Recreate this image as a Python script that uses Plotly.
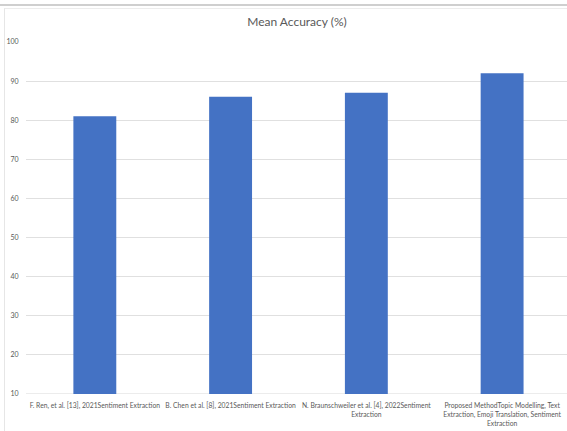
import plotly.graph_objects as go

categories = [
    "F. Ren, et al. [13], 2021Sentiment Extraction",
    "B. Chen et al. [8], 2021Sentiment Extraction",
    "N. Braunschweiler et al. [4], 2022Sentiment Extraction",
    "Proposed MethodTopic Modelling, Text Extraction, Emoji Translation, Sentiment Extraction",
]
tick_labels = [
    "F. Ren, et al. [13], 2021Sentiment Extraction",
    "B. Chen et al. [8], 2021Sentiment Extraction",
    "N. Braunschweiler et al. [4], 2022Sentiment<br>Extraction",
    "Proposed MethodTopic Modelling, Text<br>Extraction, Emoji Translation, Sentiment<br>Extraction",
]
mean_accuracy = [81, 86, 87, 92]
y_ticks = [10, 20, 30, 40, 50, 60, 70, 80, 90, 100]

W, H = 567, 431
L, R, T, B = 26, 567, 42, 394

def px(x):
    return (x - L) / (R - L)

def py(y):
    return (B - y) / (B - T)

FONT = "Lato, 'Open Sans', sans-serif"

fig = go.Figure(
    go.Bar(
        x=categories,
        y=mean_accuracy,
        marker=dict(color="#4472C4", line=dict(width=0)),
        width=0.316,
    )
)

fig.update_layout(
    width=W,
    height=H,
    margin=dict(l=L, r=W - R, t=T, b=H - B, pad=0, autoexpand=False),
    paper_bgcolor="white",
    plot_bgcolor="white",
    showlegend=False,
    font=dict(family=FONT, color="#595959", size=6.8),
    title=dict(
        text="Mean Accuracy (%)",
        x=297 / W,
        xref="container",
        xanchor="center",
        y=1 - 22 / H,
        yref="container",
        yanchor="middle",
        font=dict(size=12, color="#595959", family=FONT),
    ),
    xaxis=dict(
        type="category",
        range=[-0.507, 3.478],
        tickmode="array",
        tickvals=categories,
        ticktext=tick_labels,
        tickangle=0,
        automargin=False,
        showgrid=False,
        showline=False,
        ticks="outside",
        ticklen=5,
        tickcolor="rgba(0,0,0,0)",
        tickfont=dict(size=6.75, color="#595959", family=FONT),
        zeroline=False,
    ),
    yaxis=dict(
        range=[10, 100],
        tickmode="array",
        tickvals=y_ticks,
        ticktext=[str(v) for v in y_ticks],
        automargin=False,
        showgrid=True,
        gridcolor="#e0e0e0",
        gridwidth=1,
        zeroline=False,
        showline=False,
        ticks="outside",
        ticklen=5,
        tickcolor="rgba(0,0,0,0)",
        tickfont=dict(size=7, color="#595959", family=FONT),
    ),
    shapes=[
        dict(type="line", xref="paper", yref="paper", x0=px(0), x1=px(W), y0=py(5), y1=py(5),
             line=dict(color="#cfcfcf", width=2), layer="above"),
        dict(type="line", xref="paper", yref="paper", x0=px(4), x1=px(W), y0=py(8.5), y1=py(8.5),
             line=dict(color="#ececec", width=1), layer="above"),
        dict(type="line", xref="paper", yref="paper", x0=px(4.5), x1=px(4.5), y0=py(8.5), y1=py(H),
             line=dict(color="#e6e6e6", width=1), layer="above"),
        dict(type="line", xref="paper", yref="y", x0=0, x1=1, y0=10, y1=10,
             line=dict(color="#d9d9d9", width=1), layer="below"),
    ],
)

fig.write_html("out.html")
